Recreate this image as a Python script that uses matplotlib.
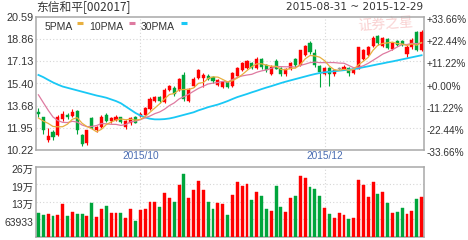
import matplotlib
matplotlib.use('Agg')
import matplotlib.pyplot as plt
import matplotlib.transforms as mtransforms
import numpy as np
import pandas as pd

plt.rcParams['font.family'] = ['Liberation Sans', 'Noto Sans CJK SC']

title = "东信和平[002017]"
holidays = ['2015-09-03', '2015-09-04', '2015-10-01', '2015-10-02',
            '2015-10-05', '2015-10-06', '2015-10-07']
days = pd.bdate_range('2015-08-31', '2015-12-29', freq='C', holidays=holidays)
month_labels = ['2015/10', '2015/12']

# daily OHLC (yuan)
open_ = [13.2, 12.75, 11.0, 11.65, 11.35, 12.6, 12.9, 12.85, 13.25, 11.4,
         10.75, 12.7, 11.75, 12.0, 12.9, 12.45, 12.55, 12.75, 12.0, 12.3,
         12.75, 12.85, 12.95, 13.4, 14.0, 14.3, 13.95, 14.85, 15.05, 14.85,
         16.05, 14.05, 15.2, 15.8, 15.85, 16.0, 15.9, 15.3, 15.15, 15.5,
         15.2, 16.0, 16.45, 16.6, 16.95, 16.6, 17.25, 16.8, 16.15, 17.1,
         16.6, 16.1, 16.5, 17.25, 16.8, 17.6, 18.55, 17.75, 16.75, 16.15,
         16.6, 16.1, 16.55, 16.45, 16.6, 16.2, 16.55, 17.3, 17.6, 18.3,
         19.05, 18.3, 18.85, 18.1, 18.65, 18.7, 17.65, 18.2, 19.4, 17.95]
high = [13.5, 12.8, 11.9, 11.75, 12.9, 13.25, 13.1, 13.4, 13.3, 11.5,
        11.8, 12.8, 12.1, 12.9, 13.1, 12.8, 12.9, 12.8, 12.55, 12.8,
        12.85, 13.15, 13.55, 14.3, 14.45, 14.4, 15.0, 15.3, 15.2, 15.85,
        16.3, 15.0, 15.9, 16.55, 16.2, 16.1, 16.0, 15.75, 15.6, 15.55,
        16.3, 16.7, 17.05, 17.2, 17.05, 17.45, 17.35, 16.9, 16.8, 17.25,
        16.65, 16.6, 17.05, 17.35, 18.0, 18.4, 18.65, 18.1, 16.85, 16.7,
        16.7, 16.55, 16.7, 16.8, 16.7, 16.6, 18.2, 18.05, 18.3, 19.05,
        19.15, 19.0, 18.95, 18.6, 18.75, 18.8, 18.35, 18.9, 19.5, 19.55]
low = [12.75, 11.45, 10.85, 11.0, 11.3, 12.5, 12.6, 12.75, 11.5, 10.55,
       10.6, 11.85, 11.6, 11.95, 12.4, 12.35, 12.5, 12.3, 11.85, 12.2,
       12.3, 12.75, 12.9, 13.35, 13.95, 13.85, 13.9, 14.8, 14.4, 14.8,
       14.0, 13.95, 15.1, 15.7, 15.1, 15.65, 15.45, 15.2, 15.05, 15.0,
       15.15, 15.95, 16.35, 16.5, 16.5, 16.5, 16.55, 16.3, 16.05, 16.5,
       16.0, 16.0, 16.45, 16.7, 16.75, 17.5, 17.7, 16.7, 15.15, 16.05,
       15.2, 16.0, 16.4, 16.4, 16.0, 16.1, 16.5, 17.2, 17.5, 18.2,
       18.4, 18.2, 18.05, 18.0, 18.3, 18.3, 17.45, 18.1, 17.9, 17.9]
close = [13.0, 11.8, 11.3, 11.2, 12.8, 13.05, 12.8, 13.2, 11.8, 10.65,
         11.75, 11.95, 12.0, 12.8, 12.5, 12.7, 12.75, 12.4, 12.5, 12.7,
         12.35, 13.05, 13.45, 14.2, 14.35, 14.0, 14.9, 15.2, 14.6, 15.75,
         14.15, 14.95, 15.75, 16.4, 16.05, 15.75, 15.55, 15.65, 15.5, 15.1,
         16.2, 16.6, 16.95, 17.1, 16.6, 17.3, 16.65, 16.4, 16.7, 16.55,
         16.1, 16.5, 16.95, 16.8, 17.95, 18.3, 17.8, 16.8, 16.3, 16.6,
         16.15, 16.45, 16.55, 16.7, 16.2, 16.55, 18.2, 17.95, 18.2, 18.95,
         18.5, 18.9, 18.15, 18.5, 18.35, 18.4, 18.25, 18.8, 18.0, 19.4]
# closes of the 9 sessions before 2015-08-31 (for the 5/10 day averages)
prev_close = [17.8, 17.2, 16.5, 15.6, 14.4, 13.0, 12.2, 12.4, 12.95]
# 30 day average as drawn
ma30 = [16.05, 15.88, 15.67, 15.47, 15.3, 15.15, 15.05, 14.95, 14.85, 14.75,
        14.65, 14.55, 14.45, 14.37, 14.28, 14.15, 14.02, 13.85, 13.6, 13.35,
        13.1, 12.9, 12.75, 12.65, 12.6, 12.6, 12.62, 12.67, 12.75, 12.85,
        12.95, 13.05, 13.15, 13.3, 13.42, 13.55, 13.65, 13.75, 13.88, 14.02,
        14.18, 14.33, 14.45, 14.57, 14.7, 14.82, 14.95, 15.07, 15.18, 15.3,
        15.42, 15.53, 15.63, 15.73, 15.83, 15.93, 16.03, 16.12, 16.2, 16.26,
        16.3, 16.34, 16.38, 16.42, 16.46, 16.5, 16.57, 16.65, 16.72, 16.8,
        16.88, 16.95, 17.03, 17.1, 17.18, 17.26, 17.34, 17.42, 17.5, 17.58]
volume = [87170, 78740, 82350, 75130, 78740, 118470, 75130, 89580, 82350, 82350,
          75130, 124500, 71520, 102830, 113670, 85970, 85970, 85970, 67910, 102830,
          58270, 99220, 102830, 126900, 126900, 110060, 158200, 141350, 128110, 187100,
          228040, 141350, 169040, 203960, 169040, 126900, 100410, 124500, 118470, 78740,
          153400, 197940, 183490, 190710, 135330, 161820, 148580, 100410, 93190, 183490,
          110060, 89580, 141350, 148580, 219610, 214790, 179880, 172660, 148580, 104030,
          82350, 69110, 85970, 78740, 65500, 69110, 205160, 187100, 144970, 197940,
          155800, 161820, 124500, 87170, 89580, 104030, 82350, 93190, 137740, 144970]

# axis tick labels as printed on the chart (top to bottom)
price_ticks = ['20.59', '18.86', '17.13', '15.40', '13.68', '11.95', '10.22']
pct_ticks = ['+33.66%', '+22.44%', '+11.22%', '+0.00%', '-11.22%', '-22.44%', '-33.66%']
vol_step = 63933

RED = '#ff0000'
GREEN = '#00a53c'
GRAY = '#999999'
TXT = '#333333'
GRID = '#d6d6d6'
EDGE = '#a8a8a8'

o = np.array(open_)
h = np.array(high)
l = np.array(low)
c = np.array(close)
x = np.arange(len(c))

full = pd.Series(prev_close + close)
ma5 = full.rolling(5).mean().values[len(prev_close):]
ma10 = full.rolling(10).mean().values[len(prev_close):]

price_hi = float(price_ticks[0])
price_lo = float(price_ticks[-1])

fig = plt.figure(figsize=(4.68, 2.4), dpi=100)
ax = fig.add_axes([36 / 468, 90 / 240, 388 / 468, 133.5 / 240])
axv = fig.add_axes([36 / 468, 3.2 / 240, 388 / 468, 70.3 / 240])

month_pos = [int(np.argmax(days.strftime('%Y/%m') == m)) for m in month_labels]

# ---- price panel
cols = np.where(c > o, RED, np.where(c < o, GREEN, GRAY))
ax.vlines(x, l, h, colors=cols, linewidth=0.8, zorder=3)
ax.bar(x, np.maximum(np.abs(c - o), 0.03), bottom=np.minimum(o, c), width=0.64,
       color=cols, edgecolor=cols, linewidth=0.3, zorder=4)
ax.plot(x, ma30, color='#19c8f5', linewidth=1.3, zorder=5)
ax.plot(x, ma10, color='#de7aa0', linewidth=0.9, zorder=6)
ax.plot(x, ma5, color='#e8b040', linewidth=0.9, zorder=7)

ax.set_xlim(-0.5, len(c) - 0.5)
ax.set_ylim(price_lo, price_hi)
ax.set_xticks([])
ax.set_yticks([])

tick_y = np.linspace(price_hi, price_lo, len(price_ticks))
ytr = ax.get_yaxis_transform()
left_tr = mtransforms.offset_copy(ytr, fig=fig, x=-2, y=-1, units='points')
right_tr = mtransforms.offset_copy(ytr, fig=fig, x=2, y=-2.4, units='points')
for k, p in enumerate(tick_y):
    if 0 < k < len(tick_y) - 1:
        ax.axhline(p, color=GRID, linestyle=(0, (1, 2)), linewidth=0.8, zorder=1)
    ax.text(0, p, price_ticks[k], transform=left_tr, ha='right', va='center',
            fontsize=7.8, color=TXT)
    ax.text(1, p, pct_ticks[k], transform=right_tr, ha='left', va='center',
            fontsize=7.2, color=TXT)

for m, lab in zip(month_pos, month_labels):
    ax.axvline(m, color=GRID, linestyle=(0, (1, 2)), linewidth=0.8, zorder=1)
    ax.text(m, -0.045, lab, transform=ax.get_xaxis_transform(), ha='center',
            va='center', fontsize=7.3, color='#4a6db3')

# legend
for xt, xd, lab, col in [(0.021, 0.106, '5PMA', '#e8b040'),
                         (0.137, 0.240, '10PMA', '#de7aa0'),
                         (0.270, 0.373, '30PMA', '#19c8f5')]:
    ax.text(xt, 0.925, lab, transform=ax.transAxes, ha='left', va='center',
            fontsize=7.5, color=TXT, zorder=8)
    ax.plot([xd, xd + 0.015], [0.952, 0.952], transform=ax.transAxes,
            color=col, linewidth=2.2, solid_capstyle='butt', zorder=8)

ax.text(0.9, 0.935, '证券之星', transform=ax.transAxes, ha='center', va='center',
        fontsize=10, color='#f9d2d2', family=['Noto Sans CJK SC'], rotation=4,
        zorder=0)

for s in ax.spines.values():
    s.set_color(EDGE)
    s.set_linewidth(1.1)

fig.text(36 / 468, 1 - 7 / 240, title, ha='left', va='center', fontsize=8.5,
         color=TXT, family=['Noto Sans CJK SC', 'DejaVu Sans'])
fig.text(423 / 468, 1 - 7 / 240,
         f"{days[0]:%Y-%m-%d} ~ {days[-1]:%Y-%m-%d}", ha='right', va='center',
         fontsize=7.6, color=TXT, family=['DejaVu Sans'])

# ---- volume panel
vcols = np.where(c >= o, RED, GREEN)
axv.bar(x, volume, width=0.6, color=vcols, edgecolor=vcols, linewidth=0.3, zorder=3)
axv.set_xlim(-0.5, len(c) - 0.5)
axv.set_ylim(0, vol_step * 4)
axv.set_xticks([])
axv.set_yticks([])
vtr = mtransforms.offset_copy(axv.get_yaxis_transform(), fig=fig, x=-2, y=-2.4,
                              units='points')
for k in range(1, 5):
    v = vol_step * k
    if k < 4:
        axv.axhline(v, color=GRID, linestyle=(0, (1, 2)), linewidth=0.8, zorder=1)
    lab = f"{v / 10000:.0f}万" if v >= 100000 else str(v)
    axv.text(0, v, lab, transform=vtr, ha='right', va='center', fontsize=7.5,
             color=TXT)
for m in month_pos:
    axv.axvline(m, color=GRID, linestyle=(0, (1, 2)), linewidth=0.8, zorder=1)
for s in axv.spines.values():
    s.set_color(EDGE)
    s.set_linewidth(1.1)

fig.savefig('out.png', dpi=100)
